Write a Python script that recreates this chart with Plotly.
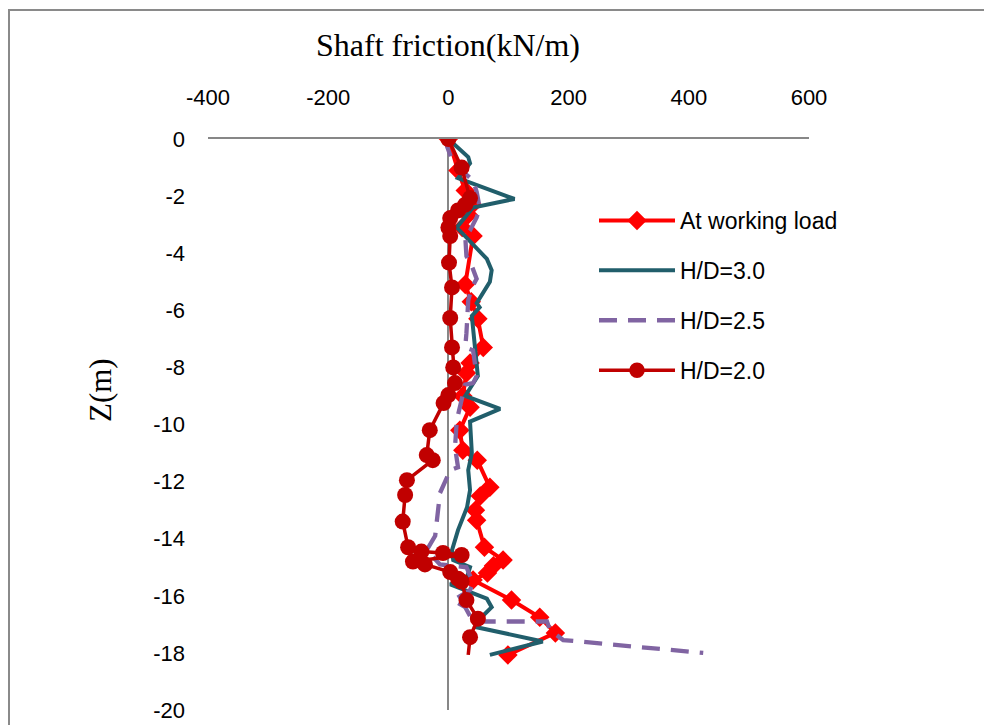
import plotly.graph_objects as go

# At working load
wl_x = [0, 16, 28, 40, 33, 23, 41, 28, 38, 49, 58, 36, 30, 24, 36, 19, 24, 48, 69, 53, 45, 47, 60, 91, 75, 65, 41, 105, 152, 178, 99]
wl_z = [0, -1.1, -1.8, -2.3, -2.65, -3.1, -3.4, -5.1, -5.7, -6.3, -7.3, -7.85, -8.2, -9.0, -9.4, -10.2, -10.9, -11.25, -12.2, -12.5, -13.0, -13.35, -14.3, -14.75, -14.95, -15.2, -15.45, -16.15, -16.75, -17.3, -18.07]

# H/D=3.0
h30_x = [0, 33, 36, 16, 110, 41, 14, 64, 72, 69, 47, 52, 39, 44, 49, 28, 86, 36, 39, 33, 36, 31, 16, 6, 8, 36, 31, 3, 64, 72, 55, 47, 157, 69]
h30_z = [0, -0.63, -0.85, -1.37, -2.1, -2.4, -3.1, -4.2, -4.6, -5.0, -5.75, -5.9, -6.2, -7.4, -8.3, -9.0, -9.45, -9.9, -11.0, -11.6, -12.3, -12.9, -13.7, -14.4, -14.75, -15.0, -15.35, -15.6, -16.1, -16.4, -16.75, -17.1, -17.6, -18.07]

# H/D=2.5
h25_x = [0, -2, 8, 41, 47, 52, 47, 36, 28, 30, 39, 47, 39, 33, 30, 28, 41, 47, 41, 28, 14, 11, 16, 3, -14, -22, -36, -14, 30, 41, 36, 8, 28, 41, 164, 169, 191, 424]
h25_z = [0, -0.27, -0.85, -1.45, -1.85, -2.4, -2.75, -3.2, -3.4, -4.1, -4.45, -4.9, -5.2, -5.65, -6.8, -7.3, -7.4, -8.3, -8.55, -8.6, -9.85, -10.8, -11.5, -11.6, -12.4, -13.9, -14.4, -14.9, -15.0, -15.55, -15.8, -16.15, -16.4, -16.9, -16.9, -17.2, -17.55, -18.0]

# H/D=2.0
h20_x = [0, 22, 36, 28, 16, 3, 0, 3, 1, 6, 3, 6, 8, 11, 0, -8, -31, -36, -26, -69, -72, -76, -67, -45, -9, 22, -59, -39, 3, 16, 22, 30, 49, 36, 33]
h20_z = [0, -1.0, -2.07, -2.3, -2.5, -2.77, -3.1, -3.4, -4.33, -5.2, -6.27, -7.3, -8.0, -8.55, -8.97, -9.25, -10.2, -11.07, -11.25, -11.95, -12.47, -13.4, -14.3, -14.45, -14.5, -14.57, -14.8, -14.9, -15.17, -15.4, -15.5, -16.15, -16.8, -17.45, -18.07]

x_ticks = [-400, -200, 0, 200, 400, 600]
x_tick_text = ["-400", "-200", "0", "200", "400", "600"]
y_ticks = [0, -2, -4, -6, -8, -10, -12, -14, -16, -18, -20]
y_tick_text = ["0", "-2", "-4", "-6", "-8", "-10", "-12", "-14", "-16", "-18", "-20"]

# page body has an 8px margin; figure is sized so that target pixel = figure pixel + 8
OFF = 8
PL, PT, PW, PH = 208, 139, 601, 571  # plot area in target pixels
FW, FH = 992 - OFF, 725 - OFF

def px(xp):
    return (xp - PL) / PW

def py(yp):
    return 1 - (yp - PT) / PH

sans = "Liberation Sans, Arial, sans-serif"
serif = "Liberation Serif, Times New Roman, serif"

fig = go.Figure()
fig.add_trace(go.Scatter(x=wl_x, y=wl_z, mode="lines+markers", name="At working load",
                         line=dict(color="#FF0000", width=4),
                         marker=dict(symbol="diamond", size=15, color="#FF0000", opacity=1, line=dict(width=0)),
                         legendgroup="a"))
fig.add_trace(go.Scatter(x=h30_x, y=h30_z, mode="lines", name="H/D=3.0",
                         line=dict(color="#215E6B", width=4), legendgroup="b"))
fig.add_trace(go.Scatter(x=h25_x, y=h25_z, mode="lines", name="H/D=2.5",
                         line=dict(color="#8064A2", width=4.3, dash="18px,11px"), legendgroup="c"))
h20_sizes = [16] * (len(h20_x) - 1) + [0]
fig.add_trace(go.Scatter(x=h20_x, y=h20_z, mode="lines+markers", name="H/D=2.0",
                         line=dict(color="#C00000", width=3.5),
                         marker=dict(symbol="circle", size=h20_sizes, color="#C00000", opacity=1, line=dict(width=0)),
                         legendgroup="d"))

fig.update_layout(
    width=FW, height=FH,
    margin=dict(l=PL - OFF, r=FW - (PL - OFF) - PW, t=PT - OFF, b=FH - (PT - OFF) - PH, autoexpand=False),
    paper_bgcolor="white", plot_bgcolor="white",
    font=dict(family=sans, size=22, color="black"),
    title=dict(text="Shaft friction(kN/m)", x=(448 - OFF) / FW, xanchor="center",
               y=1 - (45 - OFF) / FH, yanchor="middle",
               font=dict(family=serif, size=32, color="black")),
    showlegend=True,
    legend=dict(x=px(594), y=py(199), xanchor="left", yanchor="top",
                bgcolor="rgba(0,0,0,0)", traceorder="grouped", tracegroupgap=17,
                font=dict(size=23, family=sans), itemwidth=76),
    xaxis=dict(range=[-400, 600], side="top", tickvals=x_ticks, ticktext=x_tick_text, showgrid=False,
               showline=True, linecolor="#878787", linewidth=2, ticks="", automargin=False,
               zeroline=True, zerolinecolor="#878787", zerolinewidth=2,
               ticklabelstandoff=23, tickfont=dict(size=22)),
    yaxis=dict(range=[-20, 0], tickvals=y_ticks, ticktext=y_tick_text, showgrid=False, showline=False,
               zeroline=False, ticks="", ticklabelstandoff=22, tickfont=dict(size=22), automargin=False),
    annotations=[dict(text="Z(m)", xref="paper", yref="paper", x=px(100), y=py(390),
                      xanchor="center", yanchor="middle", textangle=-90, showarrow=False,
                      font=dict(family=serif, size=31, color="black"))],
    shapes=[dict(type="rect", xref="paper", yref="paper",
                 x0=px(9), x1=px(1010), y0=py(740), y1=py(10),
                 line=dict(color="#8a8a8a", width=2), fillcolor="rgba(0,0,0,0)", layer="below")],
)

fig.write_html("out.html")
